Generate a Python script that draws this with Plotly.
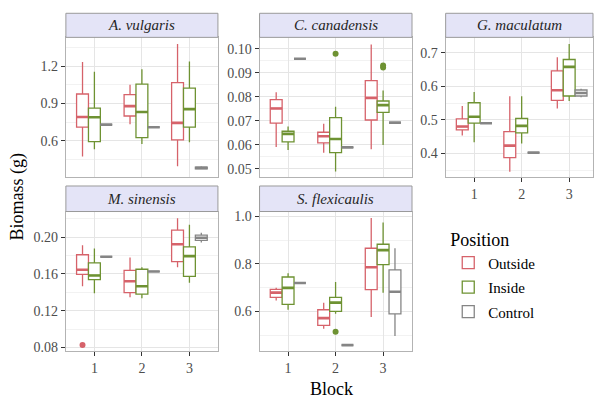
import plotly.graph_objects as go

# ---------------- data ----------------
blocks = [1, 2, 3]
positions = ["Outside", "Inside", "Control"]
species = ["A. vulgaris", "C. canadensis", "G. maculatum", "M. sinensis", "S. flexicaulis"]

# each list: [Outside[b1,b2,b3], Inside[...], Control[...]]
av_lo = [[0.476, 0.734, 0.397], [0.534, 0.576, 0.589], [0.731, 0.710, 0.371]]
av_q1 = [[0.710, 0.800, 0.608], [0.595, 0.626, 0.710], [0.731, 0.710, 0.377]]
av_med = [[0.792, 0.879, 0.745], [0.790, 0.832, 0.855], [0.731, 0.710, 0.384]]
av_q3 = [[0.976, 0.971, 1.068], [0.863, 1.055, 1.024], [0.731, 0.710, 0.391]]
av_hi = [[1.232, 1.050, 1.376], [1.155, 1.174, 1.237], [0.731, 0.710, 0.397]]
av_out = [[], [], []]

cc_lo = [[0.0591, 0.0568, 0.0582], [0.0579, 0.0489, 0.0600], [0.0959, 0.0590, 0.0693]]
cc_q1 = [[0.0691, 0.0609, 0.0704], [0.0613, 0.0568, 0.0736], [0.0959, 0.0590, 0.0693]]
cc_med = [[0.0752, 0.0636, 0.0796], [0.0646, 0.0625, 0.0766], [0.0959, 0.0590, 0.0693]]
cc_q3 = [[0.0789, 0.0653, 0.0868], [0.0657, 0.0714, 0.0783], [0.0959, 0.0590, 0.0693]]
cc_hi = [[0.0819, 0.0688, 0.1018], [0.0677, 0.0759, 0.0827], [0.0959, 0.0590, 0.0693]]
cc_out = [[], [(2, 0.0980), (3, 0.0931), (3, 0.0922)], []]

gm_lo = [[0.453, 0.345, 0.534], [0.433, 0.429, 0.556], [0.490, 0.402, 0.567]]
gm_q1 = [[0.470, 0.387, 0.558], [0.490, 0.461, 0.571], [0.490, 0.402, 0.571]]
gm_med = [[0.480, 0.423, 0.588], [0.509, 0.482, 0.658], [0.490, 0.402, 0.580]]
gm_q3 = [[0.503, 0.465, 0.646], [0.551, 0.504, 0.680], [0.490, 0.402, 0.589]]
gm_hi = [[0.541, 0.570, 0.687], [0.583, 0.570, 0.726], [0.490, 0.402, 0.593]]
gm_out = [[], [], []]

ms_lo = [[0.1466, 0.1345, 0.1672], [0.1388, 0.1334, 0.1502], [0.1786, 0.1626, 0.1940]]
ms_q1 = [[0.1594, 0.1395, 0.1733], [0.1537, 0.1380, 0.1573], [0.1786, 0.1626, 0.1964]]
ms_med = [[0.1644, 0.1520, 0.1922], [0.1583, 0.1466, 0.1793], [0.1786, 0.1626, 0.1993]]
ms_q3 = [[0.1808, 0.1637, 0.2075], [0.1719, 0.1650, 0.1893], [0.1786, 0.1626, 0.2021]]
ms_hi = [[0.1910, 0.1779, 0.2206], [0.1875, 0.1672, 0.2135], [0.1786, 0.1626, 0.2046]]
ms_out = [[(1, 0.0825)], [], []]

sf_lo = [[0.646, 0.527, 0.577], [0.607, 0.590, 0.679], [0.720, 0.458, 0.497]]
sf_q1 = [[0.659, 0.541, 0.692], [0.630, 0.600, 0.797], [0.720, 0.458, 0.590]]
sf_med = [[0.679, 0.572, 0.786], [0.699, 0.637, 0.858], [0.720, 0.458, 0.683]]
sf_q3 = [[0.693, 0.607, 0.866], [0.745, 0.659, 0.883], [0.720, 0.458, 0.775]]
sf_hi = [[0.700, 0.637, 0.993], [0.761, 0.724, 0.975], [0.720, 0.458, 0.866]]
sf_out = [[], [(2, 0.5146)], []]

stats = [
    (av_lo, av_q1, av_med, av_q3, av_hi, av_out),
    (cc_lo, cc_q1, cc_med, cc_q3, cc_hi, cc_out),
    (gm_lo, gm_q1, gm_med, gm_q3, gm_hi, gm_out),
    (ms_lo, ms_q1, ms_med, ms_q3, ms_hi, ms_out),
    (sf_lo, sf_q1, sf_med, sf_q3, sf_hi, sf_out),
]

y_ticks = [[0.6, 0.9, 1.2], [0.05, 0.06, 0.07, 0.08, 0.09, 0.10], [0.4, 0.5, 0.6, 0.7],
           [0.08, 0.12, 0.16, 0.20], [0.6, 0.8, 1.0]]

# ---------------- styling / layout ----------------
W, H = 594, 396
COLORS = {"Outside": "#D6626A", "Inside": "#6E9232", "Control": "#858585"}
FONT = "Liberation Serif, Times New Roman, serif"
Y_RANGES = [[0.31, 1.43], [0.0466, 0.1048], [0.329, 0.746], [0.0764, 0.2278], [0.4345, 1.0207]]
Y_MINOR = [0.15, 0.005, 0.05, 0.02, 0.1]
Y_FMT = [".1f", ".2f", ".1f", ".2f", ".1f"]
GAP = 0.25
DODGE = {p: (i - 1) * (1 - GAP) / 3 for i, p in enumerate(positions)}

cols = [(66, 218.3), (260, 412.7), (446.4, 594)]
rows = [((11.5, 36), (36, 178.3)), ((187.3, 213.3), (213.3, 355))]
panel_pos = [(0, 0), (0, 1), (0, 2), (1, 0), (1, 1)]
px_per_unit = (218.3 - 66) / 3.2


def fx(px):
    return px / W


def fy(py):
    return 1 - py / H


fig = go.Figure()
layout = {}
shapes = []
annotations = []

for k, sp in enumerate(species):
    r, c = panel_pos[k]
    ax = "" if k == 0 else str(k + 1)
    xa, ya = "x" + ax, "y" + ax
    lo, q1, med, q3, hi, outl = stats[k]
    for i, pos in enumerate(positions):
        col = COLORS[pos]
        fig.add_trace(go.Box(
            x=blocks, q1=q1[i], median=med[i], q3=q3[i], lowerfence=lo[i], upperfence=hi[i],
            name=pos, legendgroup=pos, showlegend=(k == 0), offsetgroup=pos,
            line=dict(color=col, width=1.3), fillcolor="white",
            xaxis=xa, yaxis=ya, hoverinfo="skip", whiskerwidth=0,
        ))
        fig.add_trace(go.Box(
            x=blocks, q1=med[i], median=med[i], q3=med[i], lowerfence=med[i], upperfence=med[i],
            name=pos, legendgroup=pos, showlegend=False, offsetgroup=pos,
            line=dict(color=col, width=2.6), fillcolor="rgba(0,0,0,0)",
            xaxis=xa, yaxis=ya, hoverinfo="skip",
        ))
        if outl[i]:
            fig.add_trace(go.Scatter(
                x=[b + DODGE[pos] for b, v in outl[i]], y=[v for b, v in outl[i]],
                mode="markers", marker=dict(color=col, size=6), showlegend=False,
                xaxis=xa, yaxis=ya, hoverinfo="skip",
            ))

    x0, x1 = cols[c]
    (s0, s1), (p0, p1) = rows[r]
    xmax = 0.4 + (x1 - x0) / px_per_unit
    show_x = k >= 2
    layout["xaxis" + ax] = dict(
        domain=[fx(x0), fx(x1)], anchor=ya, range=[0.4, xmax],
        tickvals=blocks, ticktext=[str(b) for b in blocks], showticklabels=show_x,
        ticks="outside" if show_x else "", ticklen=4, tickcolor="#333333",
        showgrid=True, gridcolor="#E5E5E5", gridwidth=1, zeroline=False,
        showline=True, mirror=True, linecolor="#B3B3B3", linewidth=1,
        tickfont=dict(family=FONT, size=14, color="#4D4D4D"),
    )
    layout["yaxis" + ax] = dict(
        domain=[fy(p1), fy(p0)], anchor=xa, range=Y_RANGES[k],
        tickvals=y_ticks[k], tickformat=Y_FMT[k], ticks="outside", ticklen=4,
        tickcolor="#333333", showgrid=True, gridcolor="#E5E5E5", gridwidth=1,
        minor=dict(dtick=Y_MINOR[k], tick0=y_ticks[k][0] - Y_MINOR[k], showgrid=True,
                   gridcolor="#F2F2F2", gridwidth=1),
        zeroline=False, showline=True, mirror=True, linecolor="#B3B3B3", linewidth=1,
        tickfont=dict(family=FONT, size=14, color="#4D4D4D"),
    )
    shapes.append(dict(type="rect", xref="paper", yref="paper", x0=fx(x0), x1=fx(x1),
                       y0=fy(s1), y1=fy(s0), fillcolor="#E4E4F7",
                       line=dict(color="#9A9A9A", width=1), layer="above"))
    annotations.append(dict(text="<i>" + sp + "</i>", xref="paper", yref="paper",
                            x=fx((x0 + x1) / 2), y=fy((s0 + s1) / 2), showarrow=False,
                            font=dict(family=FONT, size=15, color="#262626"),
                            xanchor="center", yanchor="middle"))

annotations.append(dict(text="Biomass (g)", xref="paper", yref="paper", x=fx(18), y=fy(198),
                        textangle=-90, showarrow=False, xanchor="center", yanchor="middle",
                        font=dict(family=FONT, size=18, color="#000000")))
annotations.append(dict(text="Block", xref="paper", yref="paper", x=fx(332), y=fy(394),
                        showarrow=False, xanchor="center", yanchor="middle",
                        font=dict(family=FONT, size=18, color="#000000")))

fig.update_layout(
    width=W, height=H, margin=dict(l=0, r=0, t=0, b=0),
    paper_bgcolor="white", plot_bgcolor="white",
    boxmode="group", boxgap=GAP, boxgroupgap=0,
    shapes=shapes, annotations=annotations,
    legend=dict(x=fx(449), y=fy(225), xanchor="left", yanchor="top",
                title=dict(text="Position", font=dict(family=FONT, size=18, color="#000000")),
                font=dict(family=FONT, size=15, color="#000000"), tracegroupgap=2,
                bgcolor="rgba(0,0,0,0)"),
    **layout,
)

fig.write_html("out.html", config={"displayModeBar": False},
               post_script="document.body.style.margin='0';document.body.style.overflow='hidden';")
